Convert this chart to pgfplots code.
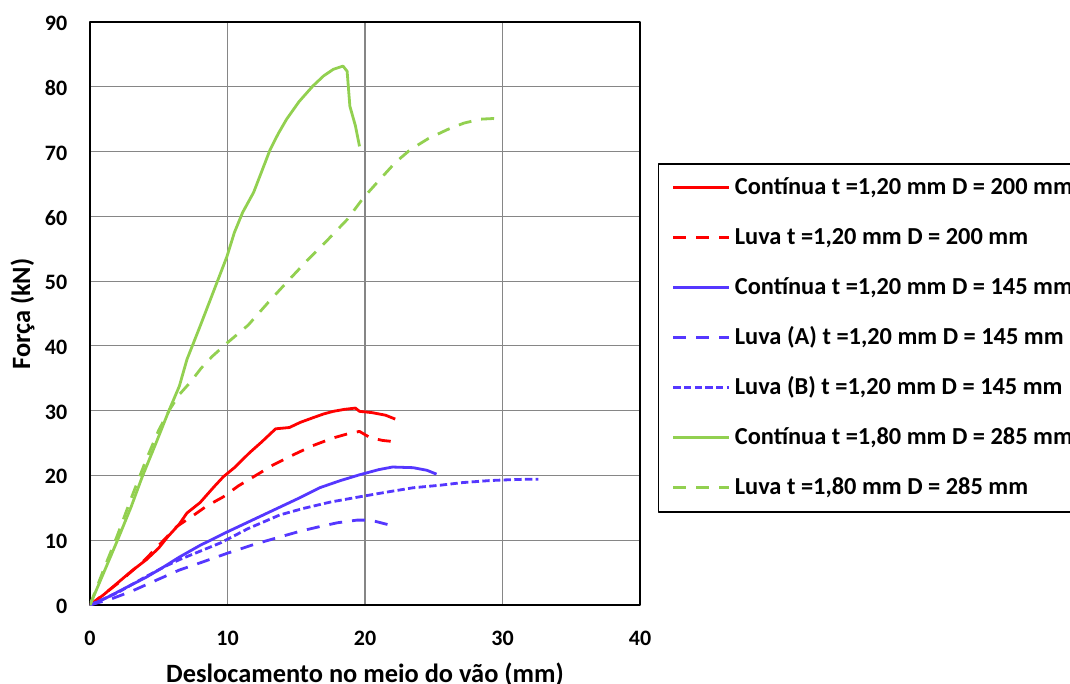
\documentclass[border=0pt]{standalone}
\usepackage{fontspec}
\setmainfont{Carlito}
\usepackage{pgfplots}
\pgfplotsset{compat=1.18}
\definecolor{cred}{RGB}{255,0,0}
\definecolor{cblue}{RGB}{85,55,255}
\definecolor{cgreen}{RGB}{146,208,80}
\definecolor{cgrid}{RGB}{134,134,134}
\begin{document}
\begin{tikzpicture}
\clip (-67.5pt,-58.5pt) rectangle (735pt,453.75pt);
\begin{axis}[
  at={(0,0)}, anchor=south west,
  scale only axis, width=412.5pt, height=437.25pt,
  xmin=0, xmax=40, ymin=0, ymax=90,
  xtick={0,10,...,40}, ytick={0,10,...,90},
  grid=major, grid style={cgrid, line width=0.8pt},
  axis line style={black, line width=1.1pt},
  major tick length=0pt,
  /pgf/number format/assume math mode=true,
  ticklabel style={font=\fontsize{16.5}{19}\selectfont\bfseries},
  xticklabel style={yshift=-16pt},
  yticklabel style={xshift=-13.5pt, yshift=-1pt},
  xlabel={Deslocamento no meio do vão (mm)},
  ylabel={Força (kN)},
  label style={font=\fontsize{19.8}{22}\selectfont\bfseries},
  xlabel style={at={(axis description cs:0.5,-0.1321)}, anchor=base},
  ylabel style={at={(axis description cs:-0.109,0.499)}, anchor=base, rotate=0},
  legend cell align=left,
  legend image code/.code={\draw[#1] (0pt,0pt) -- (42pt,0pt);},
  legend style={at={(1.0327,0.758)}, anchor=north west, draw=black, line width=1.1pt,
    font=\fontsize{18.3}{21}\selectfont\bfseries,
    inner xsep=10pt, inner ysep=10pt, row sep=21.5pt,
    nodes={inner xsep=3pt, inner ysep=0pt, text height=13pt, text depth=3pt}},
  line join=round,
]
\addplot[cred, line width=2.1pt] coordinates {
(0,0)(1,1.6)(2,3.4)(3,5.2)(4.1,7.0)(5,8.8)(5.6,10.4)(6.5,12.5)(7.05,14.2)(8,15.8)(9,18.2)(9.7,19.8)(10.5,21.2)(11.6,23.5)(12.5,25.2)(13.5,27.2)(14.5,27.4)(15.3,28.2)(16.2,28.9)(17.0,29.5)(17.7,29.9)(18.5,30.2)(19.3,30.4)(19.6,29.9)(20.5,29.7)(21.5,29.3)(22.2,28.7)};
\addlegendentry{Contínua t =1,20 mm D = 200 mm}
\addplot[cred, line width=2.1pt, dash pattern=on 9.75pt off 7.5pt] coordinates {
(0,0)(2,3.3)(4,7)(5,9.2)(6.3,12.1)(7.5,13.8)(8.5,15.3)(9.7,16.7)(10.8,18.4)(11.9,19.8)(13.3,21.6)(14.8,23.2)(16.2,24.6)(17.7,25.8)(18.7,26.4)(19.6,26.8)(20.4,25.8)(21.3,25.4)(22.2,25.2)};
\addlegendentry{Luva t =1,20 mm D = 200 mm}
\addplot[cblue, line width=2.1pt] coordinates {
(0,0)(1,0.9)(2,2.0)(3,3.1)(4.1,4.3)(5.3,5.8)(6.5,7.4)(8,9.2)(10,11.3)(12,13.3)(13.8,15.1)(15.3,16.6)(16.7,18.1)(18.2,19.2)(19.6,20.1)(21,20.9)(22,21.3)(23.5,21.2)(24.5,20.8)(25.2,20.2)};
\addlegendentry{Contínua t =1,20 mm D = 145 mm}
\addplot[cblue, line width=2.1pt, dash pattern=on 9.75pt off 7.5pt] coordinates {
(0,0)(1.5,0.9)(3,2.1)(4.9,3.9)(6.5,5.4)(8,6.5)(10,8.0)(12,9.4)(13.8,10.5)(15.3,11.4)(16.7,12.1)(18,12.7)(19.4,13.1)(20.4,13.1)(21.7,12.4)};
\addlegendentry{Luva (A) t =1,20 mm D = 145 mm}
\addplot[cblue, line width=2.1pt, dash pattern=on 5.5pt off 2.5pt] coordinates {
(0,0)(2,1.9)(4,4.3)(5.5,6.0)(6.5,7.0)(8,8.3)(9.5,9.6)(11.5,11.8)(13.8,13.9)(15.5,14.9)(17.5,15.9)(19.6,16.7)(21.5,17.4)(23.5,18.1)(25.5,18.5)(27.1,18.9)(29,19.2)(30,19.3)(31.5,19.4)(32.6,19.4)};
\addlegendentry{Luva (B) t =1,20 mm D = 145 mm}
\addplot[cgreen, line width=2.1pt] coordinates {
(0,0)(1,5.0)(2,10)(3,15.2)(3.8,19.8)(4.8,25)(5.7,29.8)(6.5,33.8)(7.05,37.9)(8,43)(9,48.5)(9.96,53.8)(10.5,57.5)(11.1,60.6)(11.9,63.7)(12.5,67)(13.1,70.3)(13.7,72.8)(14.3,75)(15.2,77.7)(16.2,80.1)(17,81.7)(17.7,82.7)(18.4,83.2)(18.7,82.4)(18.9,77)(19.3,74)(19.6,70.8)};
\addlegendentry{Contínua t =1,80 mm D = 285 mm}
\addplot[cgreen, line width=2.1pt, dash pattern=on 9.75pt off 7.5pt] coordinates {
(0,0)(1,5.5)(2,10.8)(3,16.5)(4.1,22.5)(5,27)(5.8,30.2)(6.5,32.5)(7.3,34.4)(8.1,36.6)(8.9,38.4)(10,40.5)(11.5,43.2)(13,46.8)(14.3,49.8)(15.8,53.2)(17.3,56.4)(18.7,59.5)(19.9,62.9)(21,65.5)(22.2,68.3)(23.3,70.3)(24.6,72)(26,73.4)(27.2,74.4)(28.4,75)(29.3,75.1)(30,74.9)};
\addlegendentry{Luva t =1,80 mm D = 285 mm}
\end{axis}
\end{tikzpicture}
\end{document}
